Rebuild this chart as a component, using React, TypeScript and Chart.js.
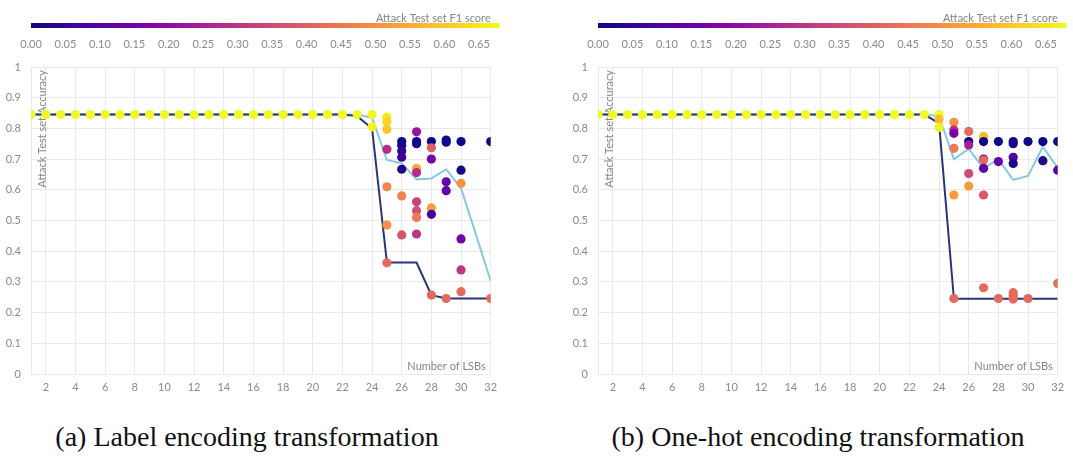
import React, { useEffect, useRef } from "react";
import { Chart, registerables } from "chart.js";

Chart.register(...registerables);

// ---------- data ----------
const LSBS = [1, 2, 3, 4, 5, 6, 7, 8, 9, 10, 11, 12, 13, 14, 15, 16, 17, 18, 19, 20, 21, 22, 23, 24, 25, 26, 27, 28, 29, 30, 31, 32];
const X_TICKS = [2, 4, 6, 8, 10, 12, 14, 16, 18, 20, 22, 24, 26, 28, 30, 32];
const Y_TICKS = [0, 0.1, 0.2, 0.3, 0.4, 0.5, 0.6, 0.7, 0.8, 0.9, 1];
const F1_TICKS = [0, 0.05, 0.1, 0.15, 0.2, 0.25, 0.3, 0.35, 0.4, 0.45, 0.5, 0.55, 0.6, 0.65];
const F1_MAX = 0.68;

const CAPTION_A = "(a) Label encoding transformation";
const CAPTION_B = "(b) One-hot encoding transformation";
const Y_TITLE = "Attack Test set Accuracy";
const X_TITLE = "Number of LSBs";
const CB_TITLE = "Attack Test set F1 score";

// (a) label encoding – mean lines
const LABEL_NAVY = [0.845, 0.845, 0.845, 0.845, 0.845, 0.845, 0.845, 0.845, 0.845, 0.845, 0.845, 0.845, 0.845, 0.845, 0.845, 0.845, 0.845, 0.845, 0.845, 0.845, 0.845, 0.845, 0.84, 0.80, 0.363, 0.363, 0.363, 0.257, 0.246, 0.246, 0.246, 0.246];
const LABEL_BLUE = [0.845, 0.845, 0.845, 0.845, 0.845, 0.845, 0.845, 0.845, 0.845, 0.845, 0.845, 0.845, 0.845, 0.845, 0.845, 0.845, 0.845, 0.845, 0.845, 0.845, 0.845, 0.845, 0.845, 0.835, 0.697, 0.686, 0.634, 0.637, 0.667, 0.605, 0.455, 0.303];

// (a) label encoding – individual runs
const LABEL_PT_X = [1, 2, 3, 4, 5, 6, 7, 8, 9, 10, 11, 12, 13, 14, 15, 16, 17, 18, 19, 20, 21, 22, 23, 24,
  24,
  25, 25, 25, 25, 25, 25, 25,
  26, 26, 26, 26, 26, 26, 26,
  27, 27, 27, 27, 27, 27, 27, 27, 27,
  28, 28, 28, 28, 28, 28,
  29, 29, 29, 29, 29,
  30, 30, 30, 30, 30, 30,
  32, 32];
const LABEL_PT_ACC = [0.845, 0.845, 0.845, 0.845, 0.845, 0.845, 0.845, 0.845, 0.845, 0.845, 0.845, 0.845, 0.845, 0.845, 0.845, 0.845, 0.845, 0.845, 0.845, 0.845, 0.845, 0.845, 0.845, 0.845,
  0.805,
  0.837, 0.822, 0.797, 0.732, 0.61, 0.485, 0.362,
  0.757, 0.744, 0.726, 0.706, 0.667, 0.58, 0.453,
  0.789, 0.757, 0.75, 0.67, 0.656, 0.561, 0.532, 0.51, 0.456,
  0.757, 0.737, 0.70, 0.541, 0.52, 0.257,
  0.762, 0.755, 0.626, 0.597, 0.246,
  0.757, 0.664, 0.621, 0.44, 0.339, 0.268,
  0.757, 0.246];
const LABEL_PT_F1 = [0.68, 0.68, 0.68, 0.68, 0.68, 0.68, 0.68, 0.68, 0.68, 0.68, 0.68, 0.68, 0.68, 0.68, 0.68, 0.68, 0.68, 0.68, 0.68, 0.68, 0.68, 0.68, 0.68, 0.68,
  0.67,
  0.66, 0.62, 0.6, 0.28, 0.48, 0.5, 0.42,
  0.0, 0.01, 0.05, 0.06, 0.02, 0.47, 0.37,
  0.22, 0.0, 0.01, 0.55, 0.28, 0.33, 0.36, 0.45, 0.3,
  0.0, 0.4, 0.15, 0.52, 0.07, 0.42,
  0.0, 0.01, 0.13, 0.12, 0.42,
  0.0, 0.01, 0.5, 0.15, 0.3, 0.42,
  0.0, 0.42];

// (b) one-hot encoding – mean lines
const ONEHOT_NAVY = [0.845, 0.845, 0.845, 0.845, 0.845, 0.845, 0.845, 0.845, 0.845, 0.845, 0.845, 0.845, 0.845, 0.845, 0.845, 0.845, 0.845, 0.845, 0.845, 0.845, 0.845, 0.845, 0.845, 0.817, 0.245, 0.245, 0.245, 0.245, 0.245, 0.245, 0.245, 0.245];
const ONEHOT_BLUE = [0.845, 0.845, 0.845, 0.845, 0.845, 0.845, 0.845, 0.845, 0.845, 0.845, 0.845, 0.845, 0.845, 0.845, 0.845, 0.845, 0.845, 0.845, 0.845, 0.845, 0.845, 0.845, 0.845, 0.84, 0.70, 0.733, 0.67, 0.70, 0.632, 0.645, 0.74, 0.672];

// (b) one-hot encoding – individual runs
const ONEHOT_PT_X = [1, 2, 3, 4, 5, 6, 7, 8, 9, 10, 11, 12, 13, 14, 15, 16, 17, 18, 19, 20, 21, 22, 23, 24,
  24, 24,
  25, 25, 25, 25, 25, 25,
  26, 26, 26, 26, 26,
  27, 27, 27, 27, 27, 27, 27,
  28, 28, 28,
  29, 29, 29, 29, 29, 29, 29,
  30, 30,
  31, 31,
  32, 32, 32];
const ONEHOT_PT_ACC = [0.845, 0.845, 0.845, 0.845, 0.845, 0.845, 0.845, 0.845, 0.845, 0.845, 0.845, 0.845, 0.845, 0.845, 0.845, 0.845, 0.845, 0.845, 0.845, 0.845, 0.845, 0.845, 0.845, 0.845,
  0.83, 0.803,
  0.82, 0.795, 0.784, 0.735, 0.583, 0.246,
  0.79, 0.757, 0.746, 0.653, 0.612,
  0.774, 0.757, 0.70, 0.697, 0.67, 0.583, 0.281,
  0.757, 0.692, 0.246,
  0.757, 0.75, 0.706, 0.686, 0.265, 0.255, 0.244,
  0.757, 0.246,
  0.757, 0.695,
  0.757, 0.664, 0.295];
const ONEHOT_PT_F1 = [0.68, 0.68, 0.68, 0.68, 0.68, 0.68, 0.68, 0.68, 0.68, 0.68, 0.68, 0.68, 0.68, 0.68, 0.68, 0.68, 0.68, 0.68, 0.68, 0.68, 0.68, 0.68, 0.68, 0.68,
  0.58, 0.67,
  0.5, 0.28, 0.16, 0.45, 0.52, 0.42,
  0.42, 0.0, 0.25, 0.35, 0.52,
  0.58, 0.0, 0.1, 0.42, 0.12, 0.38, 0.42,
  0.0, 0.13, 0.42,
  0.0, 0.01, 0.1, 0.02, 0.42, 0.42, 0.42,
  0.0, 0.42,
  0.0, 0.02,
  0.0, 0.12, 0.42];

// ---------- style ----------
const PLASMA = ["#0d0887", "#41049d", "#6a00a8", "#8f0da4", "#b12a90", "#cc4778", "#e16462", "#f2844b", "#fca636", "#fcce25", "#f0f921"];
const FONT = "Lato, 'Open Sans', sans-serif";
const TEXT = "#8a8a8a";
const GRID = "#e9e9e9";
const NAVY = "#2a3577";
const LIGHTBLUE = "#86c9df";

function hexToRgb(h: string) {
  const n = parseInt(h.slice(1), 16);
  return [(n >> 16) & 255, (n >> 8) & 255, n & 255];
}
function plasma(v: number) {
  const t = Math.max(0, Math.min(1, v / F1_MAX)) * (PLASMA.length - 1);
  const i = Math.min(PLASMA.length - 2, Math.floor(t));
  const f = t - i;
  const a = hexToRgb(PLASMA[i]);
  const b = hexToRgb(PLASMA[i + 1]);
  const c = a.map((x, k) => Math.round(x + (b[k] - x) * f));
  return `rgb(${c[0]},${c[1]},${c[2]})`;
}

const CANVAS_W = 506;
const CANVAS_H = 410;
const AREA_LEFT = 31;
const AREA_TOP = 67;
const AREA_BOTTOM_H = 36;
const AREA_RIGHT_PAD = 9;
const CB_BAR_LEN = 475; // pixel length of colorbar for 0..F1_MAX

const decorPlugin = {
  id: "decor",
  beforeDatasetsDraw(chart: any) {
    const { ctx, chartArea } = chart;
    ctx.save();
    ctx.fillStyle = "#858585";
    ctx.font = `11px ${FONT}`;
    ctx.translate(chartArea.left + 11, chartArea.top + 3);
    ctx.rotate(-Math.PI / 2);
    ctx.textAlign = "right";
    ctx.textBaseline = "middle";
    ctx.fillText(Y_TITLE, 0, 0);
    ctx.restore();
    ctx.save();
    ctx.fillStyle = "#858585";
    ctx.font = `11px ${FONT}`;
    ctx.textAlign = "right";
    ctx.textBaseline = "middle";
    ctx.fillText(X_TITLE, chartArea.right - 5, chartArea.bottom - 8);
    ctx.restore();
  },
  afterDraw(chart: any) {
    const { ctx } = chart;
    const cb = chart.scales.cb;
    const x0 = cb.getPixelForValue(0);
    const x1 = cb.getPixelForValue(F1_MAX);
    const grad = ctx.createLinearGradient(x0, 0, x1, 0);
    PLASMA.forEach((c, i) => grad.addColorStop(i / (PLASMA.length - 1), c));
    ctx.save();
    ctx.fillStyle = grad;
    ctx.fillRect(x0, 23, x1 - x0, 5);
    ctx.restore();
  },
};

function Panel(props: {
  left: number;
  ptX: number[];
  ptAcc: number[];
  ptF1: number[];
  navy: number[];
  blue: number[];
}) {
  const ref = useRef<HTMLCanvasElement>(null);
  useEffect(() => {
    if (!ref.current) return;
    const areaW = CANVAS_W - AREA_LEFT - AREA_RIGHT_PAD;
    const cbMax = (F1_MAX * areaW) / CB_BAR_LEN;
    const colors = props.ptF1.map(plasma);
    const chart = new Chart(ref.current, {
      type: "scatter",
      data: {
        datasets: [
          {
            type: "scatter",
            data: props.ptX.map((x, i) => ({ x, y: props.ptAcc[i] })),
            pointBackgroundColor: colors,
            pointBorderColor: colors,
            pointBorderWidth: 0,
            pointRadius: 4.6,
            xAxisID: "x",
            yAxisID: "y",
            order: 0,
          },
          {
            type: "line",
            data: LSBS.map((x, i) => ({ x, y: props.navy[i] })),
            borderColor: NAVY,
            borderWidth: 2,
            pointRadius: 0,
            tension: 0,
            fill: false,
            xAxisID: "x",
            yAxisID: "y",
            order: 1,
          },
          {
            type: "line",
            data: LSBS.map((x, i) => ({ x, y: props.blue[i] })),
            borderColor: LIGHTBLUE,
            borderWidth: 2,
            pointRadius: 0,
            tension: 0,
            fill: false,
            xAxisID: "x",
            yAxisID: "y",
            order: 2,
          },
        ],
      } as any,
      options: {
        responsive: false,
        animation: false,
        events: [],
        layout: { padding: { left: 0, top: 0, right: AREA_RIGHT_PAD, bottom: 0 } },
        plugins: { legend: { display: false }, tooltip: { enabled: false } },
        scales: {
          x: {
            type: "linear",
            position: "bottom",
            min: 1,
            max: 32,
            afterBuildTicks: (s: any) => {
              s.ticks = X_TICKS.map((v) => ({ value: v }));
            },
            afterFit: (s: any) => {
              s.height = AREA_BOTTOM_H;
            },
            grid: { color: GRID, drawTicks: false },
            border: { color: GRID },
            ticks: { color: TEXT, font: { family: FONT, size: 11 }, padding: 7, maxRotation: 0, autoSkip: false },
          },
          y: {
            type: "linear",
            position: "left",
            min: 0,
            max: 1,
            afterBuildTicks: (s: any) => {
              s.ticks = Y_TICKS.map((v) => ({ value: v }));
            },
            afterFit: (s: any) => {
              s.width = AREA_LEFT;
            },
            grid: { color: GRID, drawTicks: false },
            border: { color: GRID },
            ticks: {
              color: TEXT,
              font: { family: FONT, size: 11 },
              padding: 10,
              callback: (v: any) => String(Number(Number(v).toFixed(1))),
            },
          },
          cb: {
            type: "linear",
            axis: "x",
            position: "top",
            min: 0,
            max: cbMax,
            afterBuildTicks: (s: any) => {
              s.ticks = F1_TICKS.map((v) => ({ value: v }));
            },
            afterFit: (s: any) => {
              s.height = AREA_TOP;
            },
            grid: { display: false, drawTicks: false },
            border: { display: false },
            ticks: {
              color: TEXT,
              font: { family: FONT, size: 11 },
              padding: 16,
              maxRotation: 0,
              autoSkip: false,
              callback: (v: any) => Number(v).toFixed(2),
            },
            title: {
              display: true,
              text: CB_TITLE,
              align: "end",
              color: "#858585",
              font: { family: FONT, size: 11 },
              padding: { top: 11.5, bottom: 0 },
            },
          },
        },
      } as any,
      plugins: [decorPlugin],
    });
    return () => chart.destroy();
  }, []);

  return (
    <div style={{ position: "absolute", left: props.left, top: 0, width: CANVAS_W, height: 457 }}>
      <canvas ref={ref} width={CANVAS_W} height={CANVAS_H} style={{ display: "block", width: CANVAS_W, height: CANVAS_H }} />
    </div>
  );
}

export default function App() {
  const captionStyle: React.CSSProperties = {
    position: "absolute",
    top: 420,
    width: 560,
    textAlign: "center",
    fontFamily: "'Liberation Serif', 'DejaVu Serif', serif",
    fontSize: 28,
    lineHeight: "34px",
    color: "#111",
    whiteSpace: "nowrap",
  };
  return (
    <div style={{ position: "absolute", left: 0, top: 0, width: 1073, height: 457, background: "#fff", overflow: "hidden" }}>
      <Panel left={0} ptX={LABEL_PT_X} ptAcc={LABEL_PT_ACC} ptF1={LABEL_PT_F1} navy={LABEL_NAVY} blue={LABEL_BLUE} />
      <Panel left={567} ptX={ONEHOT_PT_X} ptAcc={ONEHOT_PT_ACC} ptF1={ONEHOT_PT_F1} navy={ONEHOT_NAVY} blue={ONEHOT_BLUE} />
      <div style={{ ...captionStyle, left: 247 - 280 }}>{CAPTION_A}</div>
      <div style={{ ...captionStyle, left: 818 - 280 }}>{CAPTION_B}</div>
    </div>
  );
}
